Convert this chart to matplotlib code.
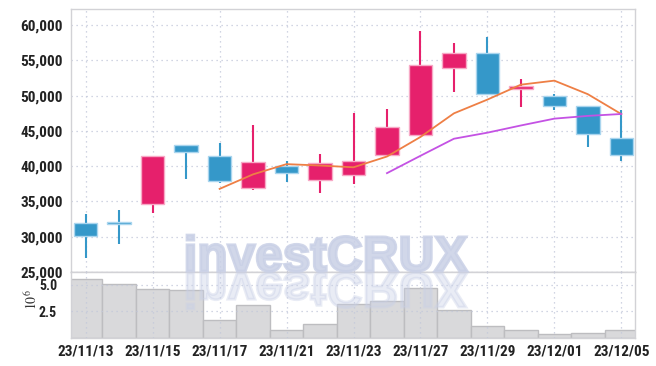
import matplotlib
import matplotlib.pyplot as plt
from matplotlib.patches import PathPatch
from matplotlib.textpath import TextPath
from matplotlib.font_manager import FontProperties
from matplotlib.transforms import Affine2D
from matplotlib.ticker import FuncFormatter

matplotlib.use('Agg')
plt.rcParams['font.family'] = ['Roboto Condensed', 'Roboto', 'DejaVu Sans']
plt.rcParams['mathtext.fontset'] = 'stix'

# daily candles (trading days only)
dates = ['23/11/13', '23/11/14', '23/11/15', '23/11/16', '23/11/17', '23/11/20',
         '23/11/21', '23/11/22', '23/11/23', '23/11/24', '23/11/27', '23/11/28',
         '23/11/29', '23/11/30', '23/12/01', '23/12/04', '23/12/05']
opens = [31900, 32000, 34600, 42950, 41400, 36850, 40000, 38000, 38700,
         41650, 44500, 54000, 56000, 50900, 49900, 48600, 43950]
highs = [33250, 33770, 41400, 43000, 43250, 45850, 40700, 41750, 47600,
         48100, 59200, 57450, 58350, 52350, 50300, 48600, 48000]
lows = [26950, 29000, 33400, 38150, 37600, 36650, 37830, 36270, 37540,
        41650, 44500, 50560, 50300, 48440, 47970, 42780, 40800]
closes = [30150, 31850, 41400, 41950, 37950, 40650, 39100, 40500, 40800,
          45600, 54400, 56000, 50300, 51400, 48500, 44600, 41650]
volumes = [5.56, 5.09, 4.55, 4.50, 1.66, 3.13, 0.69, 1.25, 3.22,
           3.44, 4.72, 2.59, 1.07, 0.69, 0.32, 0.41, 0.69]  # x 10^6

# moving averages
ma5 = [36790, 38850, 40300, 40100, 39850, 41380, 44150, 47500, 49450,
       51570, 52140, 50220, 47400]
ma10 = [39020, 41480, 43900, 44760, 45780, 46750, 47140, 47410]

RED = '#E6206C'
BLUE = '#3598C9'
GRID = '#C3C8DA'
LABEL = '#222222'

fig = plt.figure(figsize=(6.56, 3.66), dpi=100)
ax = fig.add_axes([71 / 656, 1 - 272 / 366, 564 / 656, 263 / 366])
axv = fig.add_axes([71 / 656, 1 - 337.7 / 366, 564 / 656, 65.7 / 366], sharex=ax)

idx = list(range(len(dates)))
up = [c >= o for o, c in zip(opens, closes)]
cols = [RED if u else BLUE for u in up]
edges = ['#F7A9C6' if u else '#A9D5EE' for u in up]

ax.vlines(idx, lows, highs, colors=cols, linewidth=1.5, zorder=3)
ax.bar(idx, [max(abs(c - o), 250) for o, c in zip(opens, closes)],
       bottom=[min(o, c) for o, c in zip(opens, closes)],
       width=0.7, color=cols, edgecolor=edges, linewidth=1.0, zorder=4)

ax.plot(idx[4:], ma5, color='#EE7F45', linewidth=1.3, zorder=5)
ax.plot(idx[9:], ma10, color='#C452E4', linewidth=1.3, zorder=5)

ax.set_xlim(-0.44, 16.41)
ax.set_ylim(25000, 62300)
ax.set_yticks(range(25000, 60001, 5000))
ax.yaxis.set_major_formatter(FuncFormatter(lambda v, p: f'{int(v):,}'))
ax.set_xticks(idx[::2])
ax.grid(True, linestyle=(0, (1, 3)), color=GRID, linewidth=0.9)
ax.set_axisbelow(True)
ax.tick_params(axis='x', labelbottom=False, length=0)
ax.tick_params(axis='y', length=0, pad=6, labelsize=11, labelcolor=LABEL)
for t in ax.get_yticklabels():
    t.set_fontweight('bold')

# volume panel
axv.bar(idx, volumes, width=1.0, color='#D9D9DB', edgecolor='#BDBDC0',
        linewidth=1.0, zorder=2)
axv.set_ylim(0, 6.2)
axv.set_yticks([2.5, 5.0])
axv.yaxis.set_major_formatter(FuncFormatter(lambda v, p: f'{v:.1f}'))
axv.grid(True, linestyle=(0, (1, 3)), color=GRID, linewidth=0.9, zorder=3)
axv.set_axisbelow(False)
axv.set_xticks(idx[::2])
axv.set_xticklabels(dates[::2])
axv.tick_params(axis='x', length=0, labelsize=11, labelcolor=LABEL, pad=5)
axv.tick_params(axis='y', length=0, labelsize=10, labelcolor=LABEL, pad=10)
for t in axv.get_xticklabels() + axv.get_yticklabels():
    t.set_fontweight('bold')
fig.text(32 / 656, 1 - 300 / 366, r'$10^6$', rotation=90, ha='center',
         va='center', fontsize=10, color='#333333')

for a in (ax, axv):
    for s in a.spines.values():
        s.set_color('#D2D2D6')
        s.set_linewidth(1.0)
ax.spines['bottom'].set_color('#B8B8BC')

# watermark with reflection
fp = FontProperties(family=['Liberation Sans', 'DejaVu Sans'], weight='bold')
tp = TextPath((0, 0), 'investCRUX', size=100, prop=fp)
ext = tp.get_extents()
s = 280 / ext.width
x0 = 187 - ext.x0 * s
base = 366 - 271
wm = PathPatch(tp, transform=Affine2D().scale(s).translate(x0, base),
               facecolor='#C9D0E6', edgecolor='#C9D0E6', linewidth=2.0,
               alpha=0.85, zorder=10)
fig.add_artist(wm)
refl = PathPatch(tp, transform=Affine2D().scale(s, -s).translate(x0, base - 2),
                 facecolor='#C9D0E6', edgecolor='#C9D0E6', linewidth=2.0,
                 alpha=0.4, zorder=10)
fig.add_artist(refl)

plt.savefig('out.png', dpi=100)
plt.close()
